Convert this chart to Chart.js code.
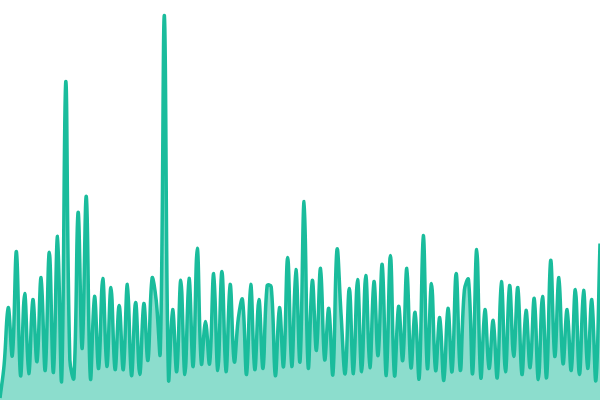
<!DOCTYPE html>
<html>
<head>
<meta charset="utf-8">
<script src="https://cdn.jsdelivr.net/npm/chart.js@4"></script>
<style>
  body { margin: 0; background: #fff; }
  #wrap { width: 600px; height: 400px; }
</style>
</head>
<body>
<div id="wrap"><canvas id="chart" width="600" height="400"></canvas></div>
<script>
// values, one per point (147 points)
const values = [
  0.5, 8.8, 23.1, 11.1, 37.1, 6.1, 26.6, 6.6, 25.1, 9.6,
  30.6, 7.4, 36.9, 6.9, 40.9, 4.9, 79.6, 10.0, 5.5, 46.9,
  12.9, 50.9, 5.4, 25.9, 7.9, 30.4, 8.4, 28.1, 7.6, 23.6,
  7.6, 28.9, 6.1, 24.4, 6.4, 24.1, 9.9, 30.4, 25.0, 11.9,
  96.1, 5.4, 22.6, 7.1, 29.9, 6.4, 30.4, 8.4, 37.9, 9.1,
  19.6, 9.1, 31.6, 7.4, 32.1, 7.1, 28.9, 9.6, 20.5, 25.1,
  6.4, 28.9, 7.6, 25.1, 7.9, 28.6, 28.3, 6.1, 23.1, 8.4,
  35.6, 8.4, 32.6, 9.6, 49.6, 8.1, 29.9, 12.4, 32.9, 10.1,
  22.9, 6.4, 37.6, 21.3, 6.6, 27.9, 6.6, 30.1, 7.1, 31.1,
  8.1, 29.6, 11.1, 33.9, 6.1, 36.1, 6.1, 23.4, 9.9, 32.9,
  8.1, 21.9, 5.4, 41.1, 7.9, 29.1, 7.4, 20.6, 4.9, 22.9,
  7.1, 31.6, 7.4, 27.5, 30.1, 6.6, 37.6, 5.6, 22.6, 7.9,
  19.9, 5.6, 29.6, 7.1, 28.6, 10.9, 28.1, 6.4, 22.4, 8.1,
  25.4, 5.1, 25.9, 5.6, 34.9, 10.9, 30.6, 9.1, 22.6, 7.4,
  27.6, 6.4, 27.4, 7.9, 25.1, 4.9, 39.1
];
// category labels are just the point numbers, no axis is shown
const labels = values.map((v, i) => String(i + 1));

const lineColor = "rgb(26, 188, 156)";
const fillColor = "rgba(26, 188, 156, 0.5)";

const ctx = document.getElementById("chart").getContext("2d");
const chart = new Chart(ctx, {
  type: "line",
  data: {
    labels: labels,
    datasets: [
      {
        data: values,
        borderColor: lineColor,
        backgroundColor: fillColor,
        borderWidth: 3.5,
        fill: "origin",
        tension: 0.4,
        pointRadius: 0,
        pointHoverRadius: 0,
      },
    ],
  },
  options: {
    responsive: false,
    animation: false,
    layout: { padding: 0 },
    plugins: {
      legend: { display: false },
      tooltip: { enabled: false },
    },
    scales: {
      x: { display: false, offset: false },
      y: { display: false, min: 0, max: 100 },
    },
  },
});
</script>
</body>
</html>
